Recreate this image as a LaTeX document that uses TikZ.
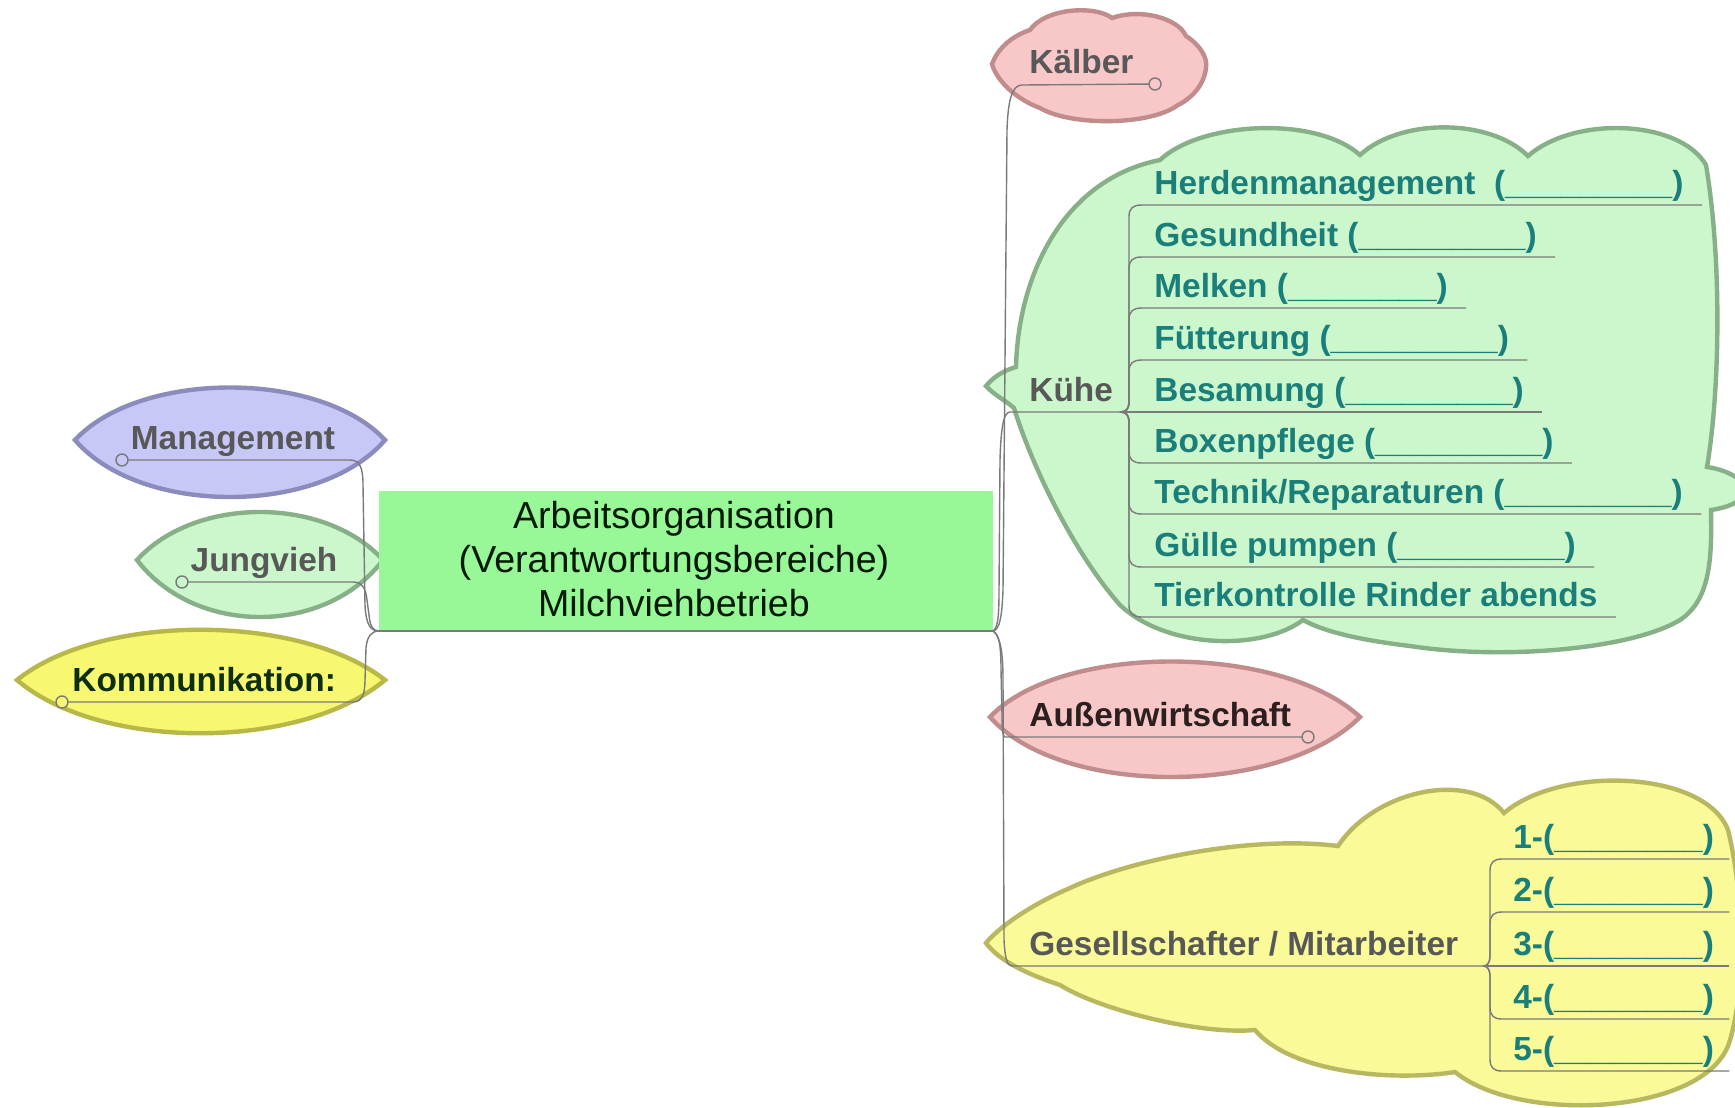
\documentclass[tikz,border=0pt]{standalone}
\usepackage{fontspec}
\setmainfont{Liberation Sans}
\usetikzlibrary{calc}
\definecolor{linegray}{HTML}{7A7A7A}
\definecolor{greenfill}{HTML}{CCF7CC}
\definecolor{greenborder}{HTML}{88B088}
\definecolor{boxfill}{HTML}{98F898}
\definecolor{lavfill}{HTML}{C8C8F8}
\definecolor{lavborder}{HTML}{8C8CBC}
\definecolor{yelfill}{HTML}{F8F870}
\definecolor{yelborder}{HTML}{B8B848}
\definecolor{lyelfill}{HTML}{FAFA99}
\definecolor{lyelborder}{HTML}{B8B860}
\definecolor{pinkfill}{HTML}{F8C8C8}
\definecolor{pinkborder}{HTML}{C08C8C}
\definecolor{tealtext}{HTML}{1A7F7A}
\definecolor{graytext}{HTML}{585858}
\definecolor{komtext}{HTML}{0D2E12}
\definecolor{awtext}{HTML}{2B1F1F}
\tikzset{
  conn/.style={draw=linegray, line width=0.7pt},
  shapeline/.style={line width=2.2pt},
  lbl/.style={inner sep=0pt, font=\fontsize{16.7}{20}\selectfont\bfseries, anchor=base west},
  item/.style={lbl, text=tealtext},
  graylbl/.style={lbl, text=graytext},
  knob/.style={conn, radius=3pt},
}
\begin{document}
\begin{tikzpicture}[x=0.5pt,y=-0.5pt]
\useasboundingbox (0,0) rectangle (1735,1108);
\fill[white] (0,0) rectangle (1735,1108);

% ---------- shapes ----------
% Kuehe cloud
\draw[shapeline, draw=greenborder, fill=greenfill]
  (986,386) .. controls (995,375) and (1006,370) .. (1016,367)
  .. controls (1018,280) and (1060,180) .. (1160,160)
  .. controls (1200,122) and (1315,115) .. (1360,155)
  .. controls (1400,118) and (1490,118) .. (1528,156)
  .. controls (1575,115) and (1680,120) .. (1706,165)
  .. controls (1722,260) and (1720,390) .. (1707,467)
  .. controls (1728,470) and (1745,480) .. (1745,490)
  .. controls (1745,502) and (1725,508) .. (1711,510)
  .. controls (1712,560) and (1710,600) .. (1680,620)
  .. controls (1630,650) and (1500,660) .. (1410,646)
  .. controls (1360,640) and (1325,632) .. (1303,620)
  .. controls (1260,652) and (1165,648) .. (1120,605)
  .. controls (1070,548) and (1030,460) .. (1014,408)
  .. controls (1005,400) and (994,395) .. cycle;
% Gesellschafter cloud
\draw[shapeline, draw=lyelborder, fill=lyelfill]
  (986,943) .. controls (998,928) and (1030,905) .. (1070,888)
  .. controls (1130,860) and (1250,835) .. (1338,846)
  .. controls (1375,790) and (1470,770) .. (1504,813)
  .. controls (1560,765) and (1705,770) .. (1728,830)
  .. controls (1745,900) and (1745,990) .. (1730,1040)
  .. controls (1710,1115) and (1520,1125) .. (1455,1072)
  .. controls (1390,1082) and (1290,1072) .. (1255,1030)
  .. controls (1200,1035) and (1100,1010) .. (1060,985)
  .. controls (1030,975) and (1000,962) .. cycle;
% Kaelber
\draw[shapeline, draw=pinkborder, fill=pinkfill]
  (992,64) .. controls (998,48) and (1012,36) .. (1030,30)
  .. controls (1045,8) and (1095,5) .. (1112,18)
  .. controls (1140,8) and (1178,18) .. (1186,36)
  .. controls (1200,45) and (1208,58) .. (1206,68)
  .. controls (1204,85) and (1192,98) .. (1178,105)
  .. controls (1150,126) and (1070,126) .. (1040,108)
  .. controls (1018,100) and (997,82) .. cycle;
% Aussenwirtschaft
\draw[shapeline, draw=pinkborder, fill=pinkfill]
  (990,717) .. controls (1060,643) and (1280,643) .. (1360,717)
  .. controls (1280,797) and (1060,797) .. cycle;
% Management
\draw[shapeline, draw=lavborder, fill=lavfill]
  (75,440) .. controls (140,370) and (320,370) .. (385,440)
  .. controls (320,516) and (140,516) .. cycle;
% Jungvieh
\draw[shapeline, draw=greenborder, fill=greenfill]
  (137,560) .. controls (195,496) and (325,496) .. (383,560)
  .. controls (325,636) and (195,636) .. cycle;
% Kommunikation
\draw[shapeline, draw=yelborder, fill=yelfill]
  (17,680) .. controls (100,613) and (300,613) .. (385,680)
  .. controls (300,751) and (100,751) .. cycle;

% central box
\fill[boxfill] (379,491) rectangle (993,631);
\node[inner sep=0pt, align=center, font=\fontsize{18.8}{22}\selectfont, text=black!90!green] (root) at (674,559)
  {Arbeitsorganisation\\(Verantwortungsbereiche)\\Milchviehbetrieb};
\coordinate (JL) at (379,631);
\coordinate (JR) at (993,631);
\draw[conn] (JL) -- (JR);

% ---------- left branches ----------
\node[graylbl, anchor=base] (mg) at (233,449) {Management};
\coordinate (mgA) at (122,460); \coordinate (mgB) at (350,460);
\draw[conn] (mgA) -- (mgB) .. controls (360,460) and (363,468) .. (363,485) -- (365,605) .. controls (366,624) and (370,631) .. (JL);
\draw[knob, fill=lavfill] (mgA) circle;

\node[graylbl, anchor=base] (jv) at (264,571) {Jungvieh};
\coordinate (jvA) at (182,582); \coordinate (jvB) at (353,582);
\draw[conn] (jvA) -- (jvB) .. controls (363,582) and (366,590) .. (367,600) -- (369,615) .. controls (370,626) and (373,631) .. (JL);
\draw[knob, fill=greenfill] (jvA) circle;

\node[lbl, text=komtext] (km) at (72,691) {Kommunikation:};
\coordinate (kmA) at (62,702); \coordinate (kmB) at (353,702);
\draw[conn] (kmA) -- (kmB) .. controls (362,702) and (365,694) .. (365,680) -- (366,648) .. controls (367,637) and (371,631) .. (JL);
\draw[knob, fill=yelfill] (kmA) circle;

% ---------- right branches ----------
\node[graylbl] (kb) at (1029,73) {Kälber};
\coordinate (kbA) at (1022,85); \coordinate (kbB) at (1155,84);
\draw[conn] (JR) .. controls (1000,630) and (1002,615) .. (1003,590) -- (1007,130) .. controls (1008,100) and (1012,85) .. (kbA) -- (kbB);
\draw[knob, fill=pinkfill] (kbB) circle;

\node[graylbl] (kh) at (1029,401) {Kühe};
\coordinate (khA) at (1010,412); \coordinate (khB) at (1120,412);
\draw[conn] (JR) .. controls (998,628) and (999,615) .. (999,590) -- (1000,460) .. controls (1001,425) and (1004,412) .. (khA) -- (khB);

\node[lbl, text=awtext] (aw) at (1029,726) {Außenwirtschaft};
\coordinate (awA) at (1005,737); \coordinate (awB) at (1308,737);
\draw[conn] (JR) .. controls (999,634) and (1001,645) .. (1001,670) -- (1002,715) .. controls (1002,730) and (1003,737) .. (awA) -- (awB);
\draw[knob, fill=pinkfill] (awB) circle;

\node[graylbl] (gs) at (1029,955) {Gesellschafter / Mitarbeiter};
\coordinate (gsA) at (1012,966); \coordinate (gsB) at (1483,966);
\draw[conn] (JR) .. controls (1000,636) and (1003,650) .. (1003,680) -- (1004,940) .. controls (1005,958) and (1007,966) .. (gsA) -- (gsB);

% ---------- Kuehe children ----------
\node[item] (k1) at (1154,194) {Herdenmanagement~ (\_\_\_\_\_\_\_\_\_)};
\node[item] (k2) at (1154,246) {Gesundheit (\_\_\_\_\_\_\_\_\_)};
\node[item] (k3) at (1154,297) {Melken (\_\_\_\_\_\_\_\_)};
\node[item] (k4) at (1154,349) {Fütterung (\_\_\_\_\_\_\_\_\_)};
\node[item] (k5) at (1154,401) {Besamung (\_\_\_\_\_\_\_\_\_)};
\node[item] (k6) at (1154,452) {Boxenpflege (\_\_\_\_\_\_\_\_\_)};
\node[item] (k7) at (1154,503) {Technik/Reparaturen (\_\_\_\_\_\_\_\_\_)};
\node[item] (k8) at (1154,556) {Gülle pumpen (\_\_\_\_\_\_\_\_\_)};
\node[item] (k9) at (1154,606) {Tierkontrolle Rinder abends};
\foreach \i/\yy in {1/205,2/257,3/308,4/360,6/463,7/514,8/567,9/617}{
  \pgfmathsetmacro\s{\yy<412 ? -1 : 1}
  \draw[conn] (khB) .. controls (1126,412) and (1129,{412+\s*3}) .. (1129,{412+\s*10})
    -- (1129,{\yy-\s*12}) .. controls (1129,{\yy-\s*3}) and (1133,\yy) .. (1142,\yy)
    -- ($(k\i.base east)+(18,11)$);
}
\draw[conn] (khB) -- ($(k5.base east)+(18,11)$);

% ---------- Gesellschafter children ----------
\node[item] (g1) at (1513,848) {1-(\_\_\_\_\_\_\_\_)};
\node[item] (g2) at (1513,901) {2-(\_\_\_\_\_\_\_\_)};
\node[item] (g3) at (1513,955) {3-(\_\_\_\_\_\_\_\_)};
\node[item] (g4) at (1513,1008) {4-(\_\_\_\_\_\_\_\_)};
\node[item] (g5) at (1513,1060) {5-(\_\_\_\_\_\_\_\_)};
\foreach \i/\yy in {1/859,2/912,4/1019,5/1071}{
  \pgfmathsetmacro\s{\yy<966 ? -1 : 1}
  \draw[conn] (gsB) .. controls (1487,966) and (1490,{966+\s*3}) .. (1490,{966+\s*10})
    -- (1490,{\yy-\s*12}) .. controls (1490,{\yy-\s*3}) and (1494,\yy) .. (1502,\yy)
    -- ($(g\i.base east)+(15,11)$);
}
\draw[conn] (gsB) -- ($(g3.base east)+(15,11)$);
\end{tikzpicture}
\end{document}
